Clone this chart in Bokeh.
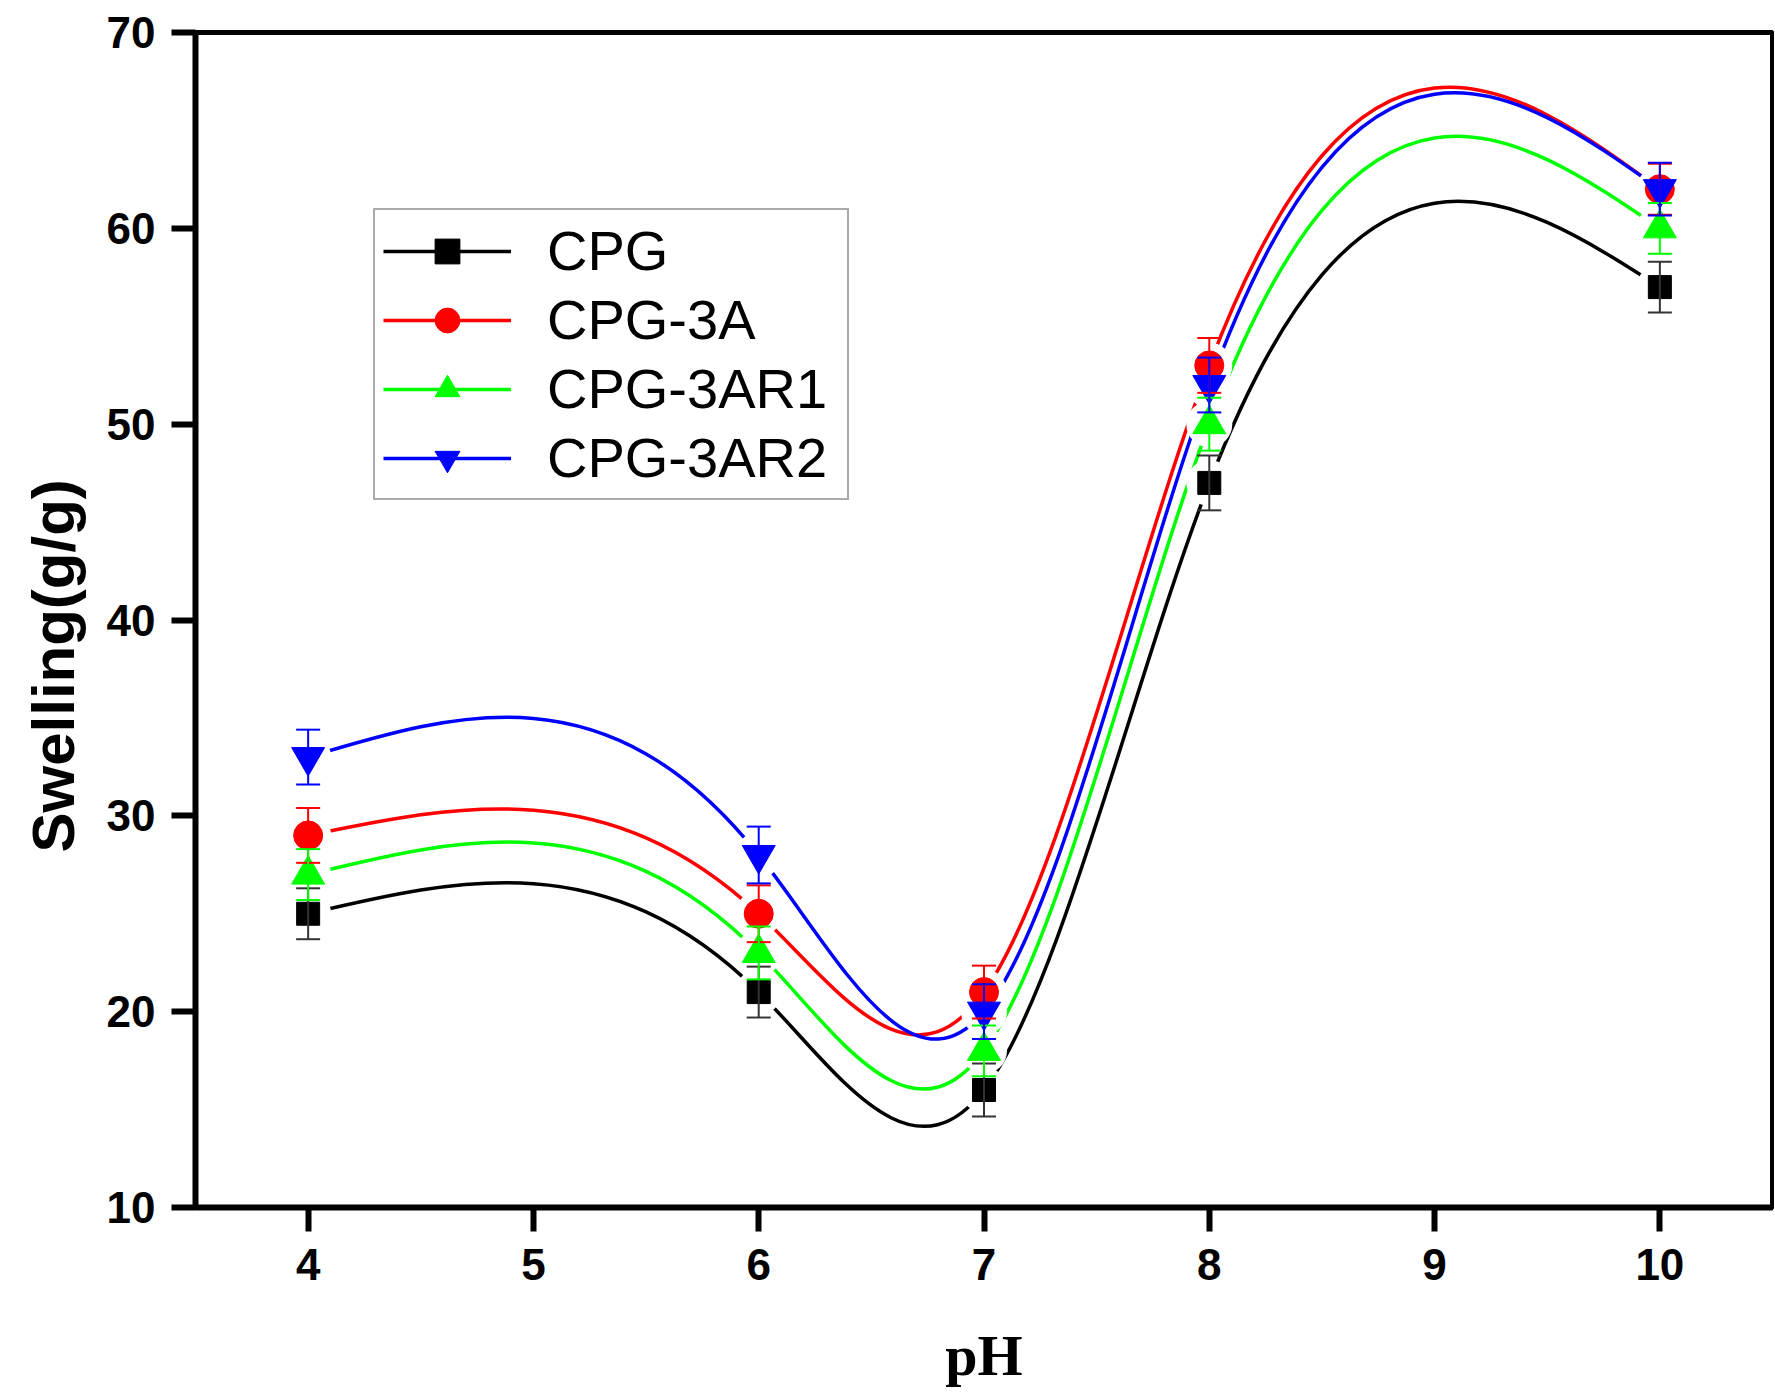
import numpy as np
from bokeh.plotting import figure
from bokeh.models import (Range1d, FixedTicker, Whisker, ColumnDataSource, Legend,
                          LegendItem, Title, TeeHead)
from bokeh.embed import file_html
from bokeh.resources import INLINE

# ---------------- data ----------------
ph = [4, 6, 7, 8, 10]
series_names = ["CPG", "CPG-3A", "CPG-3AR1", "CPG-3AR2"]
swell_cpg = [25, 21, 16, 47, 57]
swell_3a = [29, 25, 21, 53, 62]
swell_3ar1 = [27, 23, 18, 50, 60]
swell_3ar2 = [33, 28, 20, 52, 62]
err_cpg = [1.3, 1.3, 1.35, 1.4, 1.3]
err_3a = [1.4, 1.45, 1.35, 1.4, 1.3]
err_3ar1 = [1.3, 1.35, 1.3, 1.35, 1.3]
err_3ar2 = [1.4, 1.45, 1.4, 1.4, 1.35]
x_ticks = [4, 5, 6, 7, 8, 9, 10]
y_ticks = [10, 20, 30, 40, 50, 60, 70]

colors = ["#000000", "#ff0000", "#00ff00", "#0000ff"]
markers = ["square", "circle", "triangle", "inverted_triangle"]
msizes = [23, 29, 33, 33]


def natural_spline_beziers(xs, ys):
    """Natural cubic spline through the points, expressed as cubic Bezier segments."""
    x = np.asarray(xs, float)
    y = np.asarray(ys, float)
    n = len(x)
    h = np.diff(x)
    A = np.zeros((n, n))
    b = np.zeros(n)
    A[0, 0] = 1
    A[-1, -1] = 1
    for i in range(1, n - 1):
        A[i, i - 1] = h[i - 1]
        A[i, i] = 2 * (h[i - 1] + h[i])
        A[i, i + 1] = h[i]
        b[i] = 6 * ((y[i + 1] - y[i]) / h[i] - (y[i] - y[i - 1]) / h[i - 1])
    M = np.linalg.solve(A, b)
    s = np.diff(y) / h
    d0 = s - h * (2 * M[:-1] + M[1:]) / 6
    d1 = s + h * (M[:-1] + 2 * M[1:]) / 6
    return dict(x0=x[:-1], y0=y[:-1], x1=x[1:], y1=y[1:],
                cx0=x[:-1] + h / 3, cy0=y[:-1] + d0 * h / 3,
                cx1=x[1:] - h / 3, cy1=y[1:] - d1 * h / 3)


W, H = 1774, 1390
FRAME_L, FRAME_R, FRAME_T, FRAME_B = 195, 1772, 32, 1208
p = figure(width=W, height=H, x_range=Range1d(3.5, 10.5), y_range=Range1d(10, 70),
           output_backend="svg", toolbar_location=None,
           min_border_left=FRAME_L, min_border_right=W - FRAME_R,
           min_border_top=FRAME_T, min_border_bottom=H - FRAME_B)
p.background_fill_color = "white"
p.border_fill_color = "white"
p.outline_line_color = "black"
p.outline_line_width = 5
p.outline_line_alpha = 1
p.xgrid.visible = False
p.ygrid.visible = False

p.xaxis.ticker = FixedTicker(ticks=x_ticks)
p.yaxis.ticker = FixedTicker(ticks=y_ticks)
for ax in (p.xaxis[0], p.yaxis[0]):
    ax.axis_line_width = 6
    ax.axis_line_color = "black"
    ax.major_tick_line_width = 6
    ax.major_tick_line_color = "black"
    ax.major_tick_out = 24
    ax.major_tick_in = 0
    ax.minor_tick_out = 0
    ax.minor_tick_in = 0
    ax.major_label_text_font = "Liberation Sans"
    ax.major_label_text_font_style = "bold"
    ax.major_label_text_font_size = "44px"
    ax.major_label_text_color = "black"
p.xaxis.major_label_standoff = 17
p.yaxis.major_label_standoff = 16
p.xaxis.axis_label = "pH"
p.xaxis.axis_label_text_font = "Liberation Serif"
p.xaxis.axis_label_text_font_style = "bold"
p.xaxis.axis_label_text_font_size = "58px"
p.xaxis.axis_label_text_color = "black"
p.xaxis.axis_label_standoff = 40

all_y = [swell_cpg, swell_3a, swell_3ar1, swell_3ar2]
all_e = [err_cpg, err_3a, err_3ar1, err_3ar2]

line_rs = []
for ys, c in zip(all_y, colors):
    src = ColumnDataSource(natural_spline_beziers(ph, ys))
    r = p.bezier(x0="x0", y0="y0", x1="x1", y1="y1", cx0="cx0", cy0="cy0",
                 cx1="cx1", cy1="cy1", source=src, line_color=c, line_width=3.5)
    line_rs.append(r)

# white gaps around the symbols (as in the original's line-to-symbol gap)
for ys in all_y:
    p.scatter(ph, ys, marker="circle", size=46, fill_color="white", line_color=None)

marker_rs = []
for ys, c, m, s in zip(all_y, colors, markers, msizes):
    r = p.scatter(ph, ys, marker=m, size=s, fill_color=c, line_color=c, line_width=1)
    marker_rs.append(r)

for ys, es, c in zip(all_y, all_e, colors):
    up = [v + e for v, e in zip(ys, es)]
    lo = [v - e for v, e in zip(ys, es)]
    src = ColumnDataSource(dict(x=ph, upper=up, lower=lo))
    wc = "#333333" if c == "#000000" else c
    w = Whisker(source=src, base="x", upper="upper", lower="lower",
                line_color=wc, line_width=2, level="glyph",
                upper_head=TeeHead(size=24, line_color=wc, line_width=2),
                lower_head=TeeHead(size=24, line_color=wc, line_width=2))
    p.add_layout(w)

items = [LegendItem(label=n, renderers=[lr, mr])
         for n, lr, mr in zip(series_names, line_rs, marker_rs)]
legend = Legend(items=items, location=(178, 707), padding=8, spacing=4,
                glyph_width=128, glyph_height=62, label_height=62, label_width=292,
                label_standoff=36, label_text_font="Liberation Sans",
                label_text_font_size="56px", label_text_color="black",
                border_line_color="#555555", border_line_width=2,
                background_fill_color="white", background_fill_alpha=1, margin=0)
p.add_layout(legend)

ytitle = Title(text="Swelling(g/g)", align="left", offset=355,
               text_font="Liberation Sans", text_font_style="bold",
               text_font_size="60px", text_color="black", standoff=33)
p.add_layout(ytitle, "left")

open("out.html", "w").write(file_html(p, INLINE))
